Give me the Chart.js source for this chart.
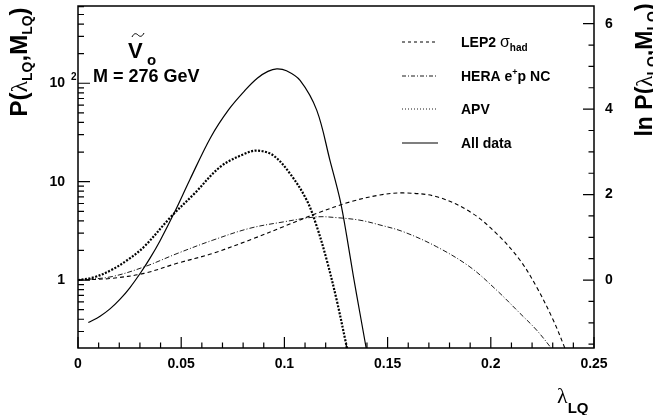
<!DOCTYPE html>
<html>
<head>
<meta charset="utf-8">
<script src="https://cdn.jsdelivr.net/npm/chart.js@4"></script>
<style>
  body { margin: 0; background: #fff; }
  canvas { display: block; }
</style>
</head>
<body>
<canvas id="lqChart" width="653" height="415"></canvas>
<script>
// values (lambda_LQ, probability P)
const xLep2 = [0, 0.016, 0.032, 0.048, 0.065, 0.085, 0.0995, 0.1157, 0.1318, 0.1463, 0.1576, 0.1738, 0.1899, 0.2028, 0.2141, 0.2222, 0.2303, 0.236, 0.238];
const pLep2 = [1, 1.04, 1.17, 1.48, 1.86, 2.64, 3.49, 4.76, 6.23, 7.32, 7.69, 7.03, 4.95, 2.97, 1.6, 0.85, 0.39, 0.2, 0.15];

const xHera = [0, 0.016, 0.032, 0.048, 0.065, 0.083, 0.0995, 0.1157, 0.1253, 0.1366, 0.1463, 0.1576, 0.1738, 0.1899, 0.2028, 0.2141, 0.2222, 0.2295, 0.232];
const pHera = [1, 1.08, 1.36, 1.86, 2.53, 3.35, 3.9, 4.39, 4.31, 4.06, 3.63, 3.1, 2.18, 1.36, 0.79, 0.46, 0.31, 0.2, 0.165];

const xApv = [0, 0.008, 0.016, 0.024, 0.032, 0.045, 0.0565, 0.069, 0.081, 0.087, 0.0946, 0.1027, 0.1108, 0.1157, 0.1205, 0.1253, 0.1302, 0.132];
const pApv = [1, 1.07, 1.26, 1.6, 2.18, 4.39, 7.6, 14.2, 19.3, 20.7, 18.5, 12.1, 6.5, 3.5, 1.6, 0.63, 0.21, 0.14];

const xAll = [0.005, 0.0107, 0.0155, 0.0204, 0.0252, 0.0305, 0.0349, 0.0397, 0.047, 0.0543, 0.0644, 0.073, 0.081, 0.087, 0.092, 0.0963, 0.101, 0.1076, 0.1157, 0.1221, 0.127, 0.1302, 0.1334, 0.1366, 0.1395, 0.1415];
const pAll = [0.37, 0.43, 0.51, 0.64, 0.84, 1.2, 1.67, 2.5, 5.0, 10.6, 28.5, 54, 85, 113, 132, 140, 134, 107, 53, 16.4, 6.5, 2.8, 1.1, 0.46, 0.21, 0.12];

const xTicks = [0, 0.05, 0.1, 0.15, 0.2, 0.25];
const xTickLabels = ['0', '0.05', '0.1', '0.15', '0.2', '0.25'];
const yTicks = [1, 10, 100];
const yTickLabels = ['1', '10', '10'];
const lnTicks = [0, 2, 4, 6];
const lnTickLabels = ['0', '2', '4', '6'];

const yMin = 0.204, yMax = 610;
const xMin = 0, xMax = 0.25;

const SANS = "'Liberation Sans', Arial, Helvetica, sans-serif";
const SERIF = "'Liberation Serif', 'Times New Roman', serif";
const tickFont = { family: SANS, size: 14, weight: 'bold' };

function pts(xs, ys) {
  return xs.map((x, i) => ({ x: x, y: ys[i] }));
}

function drawRuns(ctx, runs, x, y, align) {
  let w = 0;
  runs.forEach(r => { ctx.font = r.font; r.w = ctx.measureText(r.t).width; w += r.w; });
  let cx = align === 'center' ? x - w / 2 : x;
  runs.forEach(r => {
    ctx.font = r.font;
    ctx.fillText(r.t, cx, y + (r.dy || 0));
    cx += r.w;
  });
}

// no extra room for tick labels, the frame is placed by hand
function noPad(s) {
  s.paddingTop = 0; s.paddingBottom = 0; s.paddingLeft = 0; s.paddingRight = 0;
}

const rootFrame = {
  id: 'rootFrame',
  afterDraw(chart) {
    const ctx = chart.ctx;
    const { left, right, top, bottom } = chart.chartArea;
    const sx = chart.scales.x, sy = chart.scales.y, sl = chart.scales.yLn;
    ctx.save();
    ctx.strokeStyle = '#000';
    ctx.lineWidth = 1.5;
    ctx.strokeRect(left, top, right - left, bottom - top);

    ctx.lineWidth = 1.2;
    ctx.beginPath();
    // x ticks, pointing up into the frame
    for (let i = 0; i <= 25; i++) {
      const px = sx.getPixelForValue(i * 0.01);
      const len = i % 5 === 0 ? 11 : 5.5;
      ctx.moveTo(px, bottom);
      ctx.lineTo(px, bottom - len);
    }
    // log ticks on the left
    for (let d = -1; d <= 2; d++) {
      for (let m = 1; m <= 9; m++) {
        const v = m * Math.pow(10, d);
        if (v < yMin || v > yMax) continue;
        const py = sy.getPixelForValue(v);
        const len = m === 1 ? 12 : 6;
        ctx.moveTo(left, py);
        ctx.lineTo(left + len, py);
      }
    }
    // linear ln ticks on the right
    for (let k = -3; k <= 12; k++) {
      const v = k * 0.5;
      if (v < sl.min || v > sl.max) continue;
      const py = sl.getPixelForValue(v);
      const len = k % 4 === 0 ? 11 : 5.5;
      ctx.moveTo(right, py);
      ctx.lineTo(right - len, py);
    }
    ctx.stroke();

    ctx.fillStyle = '#000';
    ctx.textBaseline = 'alphabetic';

    // superscript of the 10^2 label
    ctx.font = 'bold 10px ' + SANS;
    ctx.fillText('2', 71, sy.getPixelForValue(100) - 3);

    // left title
    ctx.save();
    ctx.translate(27, 62);
    ctx.rotate(-Math.PI / 2);
    drawRuns(ctx, [
      { t: 'P(', font: 'bold 24px ' + SANS },
      { t: 'λ', font: '24px ' + SERIF },
      { t: 'LQ', font: 'bold 14px ' + SANS, dy: 5 },
      { t: ',M', font: 'bold 24px ' + SANS },
      { t: 'LQ', font: 'bold 14px ' + SANS, dy: 5 },
      { t: ')', font: 'bold 24px ' + SANS }
    ], 0, 0, 'center');
    ctx.restore();

    // right title
    ctx.save();
    ctx.translate(652, 70);
    ctx.rotate(-Math.PI / 2);
    drawRuns(ctx, [
      { t: 'ln P(', font: 'bold 23px ' + SANS },
      { t: 'λ', font: '23px ' + SERIF },
      { t: 'LQ', font: 'bold 14px ' + SANS, dy: 5 },
      { t: ',M', font: 'bold 23px ' + SANS },
      { t: 'LQ', font: 'bold 14px ' + SANS, dy: 5 },
      { t: ')', font: 'bold 23px ' + SANS }
    ], 0, 0, 'center');
    ctx.restore();

    // x title
    drawRuns(ctx, [
      { t: 'λ', font: '22px ' + SERIF },
      { t: 'LQ', font: 'bold 15px ' + SANS, dy: 10 }
    ], 557, 403, 'left');

    // model label
    ctx.font = 'bold 22px ' + SANS;
    ctx.fillText('V', 128, 58);
    ctx.font = 'bold 15px ' + SANS;
    ctx.fillText('o', 147, 65);
    ctx.lineWidth = 1;
    ctx.beginPath();
    ctx.moveTo(132, 37);
    ctx.bezierCurveTo(134, 33, 136, 33, 138, 35);
    ctx.bezierCurveTo(140, 37, 142, 37, 144, 33);
    ctx.stroke();
    ctx.font = 'bold 18px ' + SANS;
    ctx.fillText('M = 276 GeV', 93, 82);

    // legend
    const legend = [
      { y: 42, dash: [3, 3], lw: 1, runs: [
        { t: 'LEP2 ', font: 'bold 14px ' + SANS },
        { t: 'σ', font: '16px ' + SANS },
        { t: 'had', font: 'bold 10px ' + SANS, dy: 4 }] },
      { y: 76, dash: [4, 2, 1, 2], lw: 0.9, runs: [
        { t: 'HERA e', font: 'bold 14px ' + SANS },
        { t: '+', font: 'bold 9px ' + SANS, dy: -6 },
        { t: 'p NC', font: 'bold 14px ' + SANS }] },
      { y: 109, dash: [1, 2], lw: 0.9, runs: [
        { t: 'APV', font: 'bold 14px ' + SANS }] },
      { y: 143, dash: [], lw: 1.2, runs: [
        { t: 'All data', font: 'bold 14px ' + SANS }] }
    ];
    legend.forEach(e => {
      ctx.setLineDash(e.dash);
      ctx.lineWidth = e.lw;
      ctx.beginPath();
      ctx.moveTo(402, e.y);
      ctx.lineTo(438, e.y);
      ctx.stroke();
      ctx.setLineDash([]);
      drawRuns(ctx, e.runs, 461, e.y + 5, 'left');
    });
    ctx.restore();
  }
};

new Chart(document.getElementById('lqChart'), {
  type: 'scatter',
  data: {
    datasets: [
      { label: 'LEP2 σhad', data: pts(xLep2, pLep2), borderDash: [4, 3], borderWidth: 1.1 },
      { label: 'HERA e+p NC', data: pts(xHera, pHera), borderDash: [5, 2, 1, 2], borderWidth: 0.9 },
      { label: 'APV', data: pts(xApv, pApv), borderDash: [2, 1.5], borderWidth: 2.2 },
      { label: 'All data', data: pts(xAll, pAll), borderWidth: 1.2 }
    ].map(d => Object.assign(d, {
      showLine: true,
      borderColor: '#000',
      pointRadius: 0,
      tension: 0.35,
      yAxisID: 'y'
    }))
  },
  options: {
    responsive: false,
    animation: false,
    events: [],
    layout: { padding: { top: 6, left: 0, right: 0, bottom: 0 } },
    plugins: { legend: { display: false }, tooltip: { enabled: false } },
    scales: {
      x: {
        type: 'linear', position: 'bottom', min: xMin, max: xMax,
        grid: { display: false, drawTicks: false }, border: { display: false },
        afterBuildTicks: s => { s.ticks = xTicks.map(v => ({ value: v })); },
        afterFit: s => { s.height = 67; noPad(s); },
        ticks: {
          padding: 8, color: '#000', font: tickFont, maxRotation: 0, autoSkip: false,
          callback: (v) => xTickLabels[xTicks.indexOf(v)]
        }
      },
      y: {
        type: 'logarithmic', position: 'left', min: yMin, max: yMax,
        grid: { display: false, drawTicks: false }, border: { display: false },
        afterBuildTicks: s => { s.ticks = yTicks.map(v => ({ value: v })); },
        afterFit: s => { s.width = 78; noPad(s); },
        ticks: {
          padding: 13, color: '#000', font: tickFont, autoSkip: false,
          callback: (v) => yTickLabels[yTicks.indexOf(v)]
        }
      },
      yLn: {
        type: 'linear', position: 'right', min: Math.log(yMin), max: Math.log(yMax),
        grid: { display: false, drawTicks: false }, border: { display: false },
        afterBuildTicks: s => { s.ticks = lnTicks.map(v => ({ value: v })); },
        afterFit: s => { s.width = 59; noPad(s); },
        ticks: {
          padding: 11, color: '#000', font: tickFont, autoSkip: false,
          callback: (v) => lnTickLabels[lnTicks.indexOf(v)]
        }
      }
    }
  },
  plugins: [rootFrame]
});
</script>
</body>
</html>
